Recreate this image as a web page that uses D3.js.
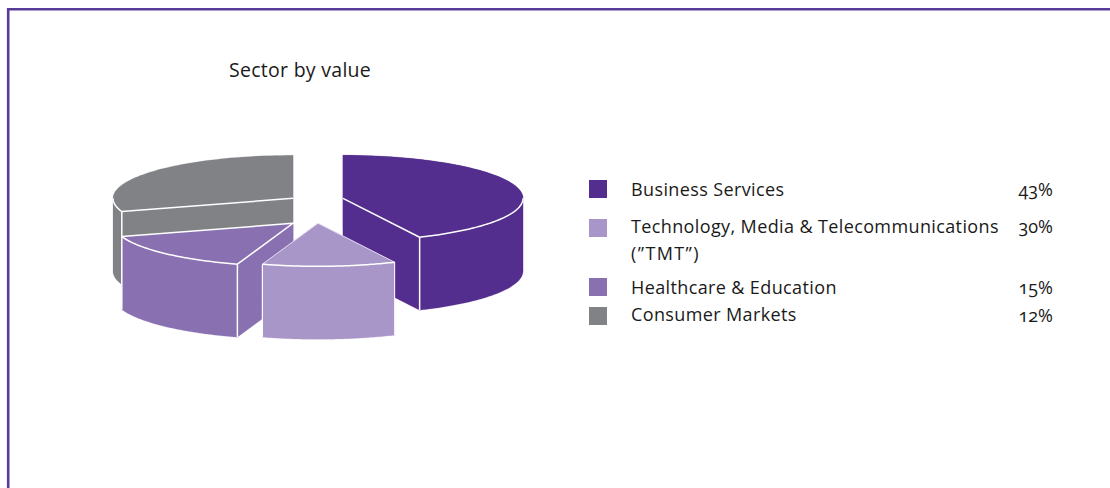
<!DOCTYPE html>
<html><head><meta charset="utf-8">
<script src="https://cdn.jsdelivr.net/npm/d3@7/dist/d3.min.js"></script>
<style>html,body{margin:0;padding:0;background:#fff;overflow:hidden}
text{font-family:"Open Sans",sans-serif;fill:#1a1a1a;font-feature-settings:"onum" 1;}</style>
</head><body>
<script>
const chartTitle = "Sector by value";
const legendLabels = [["Business Services"],["Technology, Media & Telecommunications","(”TMT”)"],["Healthcare & Education"],["Consumer Markets"]];
const legendPercents = ["43%","30%","15%","12%"];
const legendColors = ["#532e8e","#a896c9","#8870b1","#808285"];
// Shares as actually drawn in the pie (clockwise from 12 o'clock)
const sliceNames = ["Business Services","Technology, Media & Telecommunications","Healthcare & Education","Consumer Markets"];
const sliceShares = [43,12,15,30];

const W=1110,H=488;
const svg=d3.select("body").append("svg").attr("width",W).attr("height",H).style("display","block");
svg.append("path").attr("d","M1110,9.2H8.2V488").attr("fill","none").attr("stroke","#583a9a").attr("stroke-width",2.6);
svg.append("text").attr("x",229).attr("y",77).attr("font-size",19.5).attr("letter-spacing",0.28).text(chartTitle);

// Pie geometry
const cx=318,cy=198.3,rx=180,ry=43,depth=73;
const sx=d3.scaleLinear().domain([-1,1]).range([-rx,rx]);
const sy=d3.scaleLinear().domain([-1,1]).range([-ry,ry]);
const explode=[[25,0],[0,25],[-25,25],[-25,0]];
const pie=d3.pie().sort(null).value(d=>d)(sliceShares);
const line=d3.line();
const pt=(i,a,dz=0)=>[cx+explode[i][0]+sx(Math.sin(a)),cy+explode[i][1]+dz+sy(-Math.cos(a))];
const apex=(i,dz=0)=>[cx+explode[i][0],cy+explode[i][1]+dz];
const rim=(i,a0,a1,dz=0)=>d3.range(0,61).map(k=>pt(i,a0+(a1-a0)*k/60,dz));
const drawOrder=[3,0,2,1];
const g=svg.append("g");
drawOrder.forEach(i=>{
  const s=pie[i],col=legendColors[i],a0=s.startAngle,a1=s.endAngle;
  const el=g.append("g");
  const fill=(pts)=>el.append("path").attr("d",line(pts)+"Z").attr("fill",col).attr("stroke",col).attr("stroke-width",0.2);
  const white=(pts,w=1.5)=>el.append("path").attr("d",line(pts)).attr("fill","none").attr("stroke","#fff").attr("stroke-width",w);
  // cut faces
  fill([apex(i),pt(i,a0),pt(i,a0,depth),apex(i,depth)]);
  fill([apex(i),pt(i,a1),pt(i,a1,depth),apex(i,depth)]);
  // outer wall (front half only)
  const fa0=Math.max(a0,Math.PI/2),fa1=Math.min(a1,Math.PI*1.5);
  if(fa1>fa0) fill(rim(i,fa0,fa1).concat(rim(i,fa1,fa0,depth)));
  if(a0<Math.PI/2) fill(rim(i,a0,Math.PI/2).concat(rim(i,Math.PI/2,a0,depth)));
  // top
  fill([apex(i)].concat(rim(i,a0,a1)));
  // white edges
  if(i===0){
    white([apex(i),pt(i,a1)]);
    white(rim(i,Math.PI/2,a1));
    white([pt(i,a1),pt(i,a1,depth)]);
  } else if(i===1){
    white([pt(i,a1),apex(i),pt(i,a0)],0.7);
    white(rim(i,a0,a1));
    white([pt(i,a0),pt(i,a0,depth)],1);
    white([pt(i,a1),pt(i,a1,depth)],1.2);
  } else if(i===2){
    white([pt(i,a1),apex(i),pt(i,a0)]);
    white(rim(i,a0,a1));
    white([pt(i,a0),pt(i,a0,depth)]);
    white([pt(i,a1),pt(i,a1,depth)]);
  } else {
    white([apex(i),pt(i,a0)]);
    white([pt(i,a0),pt(i,a0,depth)]);
    white(rim(i,a0,Math.PI*1.5));
  }
});

// Legend
const swY=d3.scaleOrdinal().domain([0,1,2,3]).range([180,219,278,307]);
const pctY=[196,233,294,322];
const baselines=[[196],[233,260],[294],[321]];
const lg=svg.append("g");
legendLabels.forEach((lines,i)=>{
  lg.append("rect").attr("x",589).attr("y",swY(i)).attr("width",18).attr("height",18).attr("fill",legendColors[i]);
  lines.forEach((t,j)=>lg.append("text").attr("x",631).attr("y",baselines[i][j]).attr("font-size",18)
    .attr("letter-spacing",j===1?1.4:0.38).text(t));
  lg.append("text").attr("x",1053).attr("y",pctY[i]).attr("text-anchor","end").attr("font-size",18).text(legendPercents[i]);
});
</script>
</body></html>
